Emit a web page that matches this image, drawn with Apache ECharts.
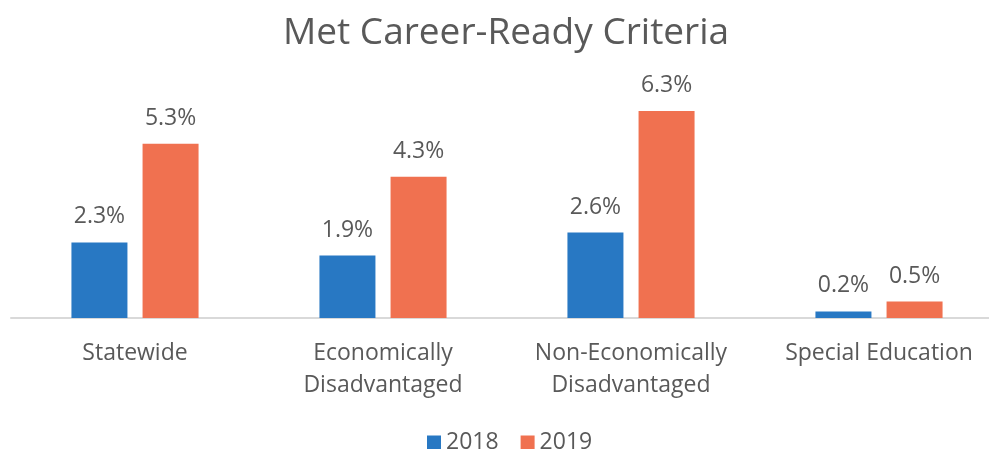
<!DOCTYPE html>
<html><head><meta charset="utf-8">
<script src="https://cdn.jsdelivr.net/npm/echarts@6/dist/echarts.min.js"></script>
<style>html,body{margin:0;padding:0;background:#fff;overflow:hidden}#c{width:1003px;height:449px}</style>
</head><body><div id="c"></div>
<script>
const categories = ['Statewide', 'Economically\nDisadvantaged', 'Non-Economically\nDisadvantaged', 'Special Education'];
const values2018 = [2.3, 1.9, 2.6, 0.2];
const values2019 = [5.3, 4.3, 6.3, 0.5];
const seriesNames = ['2018', '2019'];
const font = 'Open Sans';
const txt = '#595959';
const chart = echarts.init(document.getElementById('c'));
const lbl = {show: true, position: 'top', distance: 14, formatter: p => p.value.toFixed(1) + '%', color: txt, fontFamily: font, fontSize: 23};
chart.setOption({
  animation: false,
  title: {text: 'Met Career-Ready Criteria', left: 278, top: 10, textStyle: {fontFamily: font, fontSize: 37, fontWeight: 'normal', color: txt}},
  legend: {bottom: -10, left: 422, itemWidth: 14, itemHeight: 14, itemGap: 22, icon: 'rect', textStyle: {fontFamily: font, fontSize: 23, color: txt}, data: seriesNames},
  grid: {left: 11, right: 0, top: 88, bottom: 131},
  xAxis: {type: 'category', data: categories, axisLine: {lineStyle: {color: '#d9d9d9', width: 2}}, axisTick: {show: false},
    axisLabel: {color: txt, fontFamily: font, fontSize: 23, lineHeight: 32, margin: 19, interval: 0}},
  yAxis: {type: 'value', min: 0, max: 7, show: false, splitLine: {show: false}},
  series: [
    {name: seriesNames[0], type: 'bar', data: values2018, barWidth: 56, barGap: '27%', itemStyle: {color: '#2878c3'}, label: lbl},
    {name: seriesNames[1], type: 'bar', data: values2019, barWidth: 56, itemStyle: {color: '#f07150'}, label: lbl}
  ]
});
</script></body></html>
